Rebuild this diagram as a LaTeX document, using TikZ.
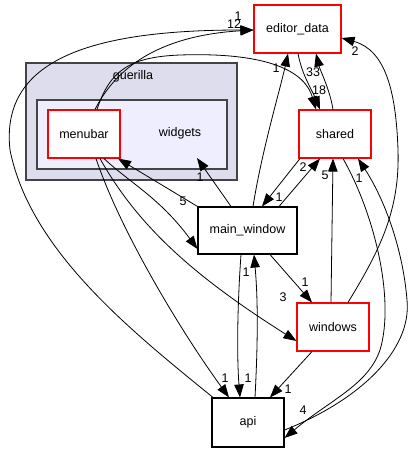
\documentclass[tikz,border=0pt]{standalone}
\usepackage{fontspec}
\setmainfont{Liberation Sans}
\usetikzlibrary{arrows.meta}
\definecolor{clout}{HTML}{DDDDEE}
\definecolor{clin}{HTML}{EEEEFF}
\definecolor{clborder}{HTML}{444444}
\tikzset{
  box/.style={draw, fill=white, line width=1.1pt, inner sep=0pt, font=\fontsize{12.5}{14}\selectfont},
  redbox/.style={box, draw=red},
  blackbox/.style={box, draw=black},
  cluster/.style={draw=clborder, line width=1.3pt},
  lbl/.style={inner sep=0pt, font=\fontsize{12.5}{14}\selectfont},
  dep/.style={draw, line width=0.8pt, -{Triangle[length=13pt,width=9.5pt]}},
}
\begin{document}
\begin{tikzpicture}[x=1pt,y=-1pt]
\useasboundingbox[fill=white] (0,0) rectangle (414,452);
% clusters
\filldraw[cluster, fill=clout] (26,63) rectangle (237,180);
\node[lbl] (guerilla) at (133,76) {guerilla};
\filldraw[cluster, fill=clin] (37,100) rectangle (227,169);
\node[lbl] (widgets) at (180,133) {widgets};
% nodes
\node[redbox, minimum width=87pt, minimum height=48pt] (ed) at (297.5,29) {editor\_data};
\node[redbox, minimum width=72pt, minimum height=48pt] (mb) at (84,134) {menubar};
\node[redbox, minimum width=72pt, minimum height=48pt] (sh) at (335,134) {shared};
\node[blackbox, minimum width=99pt, minimum height=47pt] (mw) at (247.5,230.5) {main\_window};
\node[redbox, minimum width=72pt, minimum height=48pt] (wi) at (333,327) {windows};
\node[blackbox, minimum width=72pt, minimum height=49pt] (api) at (248,422.5) {api};
\coordinate (wdg) at (197,158);
% edges
\path[dep] ([xshift=11pt]mb.north) .. controls (120,60) and (170,35) .. ([yshift=-1pt]ed.west);
\path[dep] ([xshift=13pt]mb.north) .. controls (110,70) and (130,57) .. (180,55) .. controls (270,52) and (305,72) .. ([xshift=-19pt]sh.north);
\path[dep] ([xshift=-35pt]api.north) .. controls (130,330) and (30,250) .. (10,150) .. controls (0,60) and (90,30) .. ([yshift=-1pt]ed.west);
\path[dep] ([xshift=5.5pt]mw.north) .. controls (262,150) and (280,90) .. ([xshift=-9.5pt]ed.south);
\path[dep] ([xshift=0.5pt]ed.south) .. controls (302,75) and (312,90) .. ([xshift=-15pt]sh.north);
\path[dep] ([xshift=-2pt]sh.north) .. controls (330,90) and (320,70) .. ([xshift=18.5pt]ed.south);
\path[dep] ([xshift=-35pt]sh.south) -- ([xshift=14.5pt]mw.north);
\path[dep] ([xshift=31.5pt]mw.north) -- ([xshift=-15pt]sh.south);
\path[dep] ([xshift=-2pt]wi.north) -- ([xshift=-2pt]sh.south);
\path[dep] ([xshift=8pt]sh.south) .. controls (375,215) and (395,300) .. (380,350) .. controls (368,385) and (330,400) .. ([yshift=-15.5pt]api.east);
\path[dep] ([yshift=-7.5pt]api.east) .. controls (360,400) and (412,350) .. (407,300) .. controls (403,250) and (385,200) .. ([xshift=23pt]sh.south);
\path[dep] ([xshift=15pt]wi.north) .. controls (380,250) and (400,210) .. (398,150) .. controls (396,90) and (385,50) .. ([yshift=-9pt]ed.east);
\path[dep] ([xshift=20pt]mb.south) .. controls (130,183) and (160,198) .. ([yshift=-18.5pt]mw.west);
\path[dep] (mw.north west) -- ([xshift=34pt]mb.south);
\path[dep] ([xshift=-16.5pt]mw.north) -- (wdg);
\path[dep] ([xshift=16pt]mb.south) .. controls (140,230) and (200,280) .. ([yshift=-14pt]wi.west);
\path[dep] ([xshift=12pt]mb.south) .. controls (120,230) and (180,330) .. ([xshift=-19pt]api.north);
\path[dep] ([xshift=-6.5pt]mw.south) .. controls (237,310) and (237,360) .. ([xshift=-8pt]api.north);
\path[dep] ([xshift=7pt]api.north) .. controls (258,340) and (258,300) .. ([xshift=6.5pt]mw.south);
\path[dep] ([xshift=22.5pt]mw.south) -- ([xshift=-21pt]wi.north);
\path[dep] ([xshift=-21pt]wi.south) -- ([xshift=22pt]api.north);
% labels
\node[lbl] (l1a) at (238,16) {1};
\node[lbl] (l12) at (234,24) {12};
\node[lbl] (l1b) at (276,68) {1};
\node[lbl] (l33) at (313,72) {33};
\node[lbl] (l18) at (319,90) {18};
\node[lbl] (l2a) at (355,51) {2};
\node[lbl] (l2b) at (303,167) {2};
\node[lbl] (l5a) at (325,175) {5};
\node[lbl] (l1c) at (279,197) {1};
\node[lbl] (l1d) at (359,178) {1};
\node[lbl] (l1e) at (200,177) {1};
\node[lbl] (l5b) at (183,201) {5};
\node[lbl] (l1f) at (246,272) {1};
\node[lbl] (l1g) at (305,282) {1};
\node[lbl] (l3) at (283,297) {3};
\node[lbl] (l1h) at (225,378) {1};
\node[lbl] (l1i) at (248,378) {1};
\node[lbl] (l1j) at (288,389) {1};
\node[lbl] (l4) at (303,410) {4};
\end{tikzpicture}
\end{document}
